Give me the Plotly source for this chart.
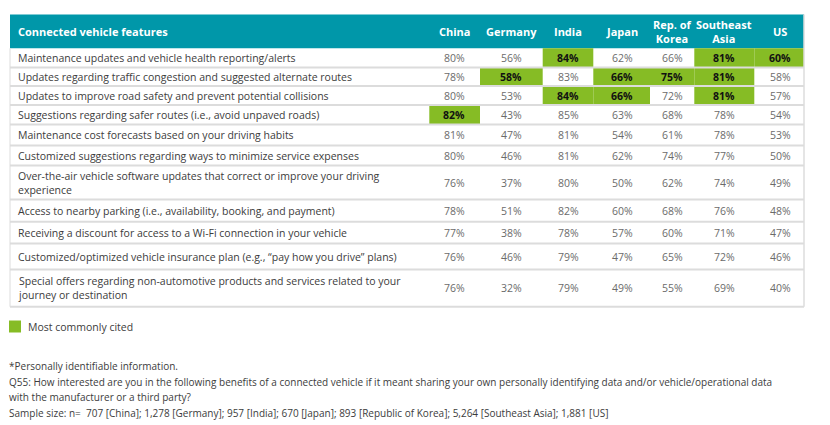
import plotly.graph_objects as go

features = [
    "Maintenance updates and vehicle health reporting/alerts",
    "Updates regarding traffic congestion and suggested alternate routes",
    "Updates to improve road safety and prevent potential collisions",
    "Suggestions regarding safer routes (i.e., avoid unpaved roads)",
    "Maintenance cost forecasts based on your driving habits",
    "Customized suggestions regarding ways to minimize service expenses",
    "Over-the-air vehicle software updates that correct or improve your driving<br>experience",
    "Access to nearby parking (i.e., availability, booking, and payment)",
    "Receiving a discount for access to a Wi-Fi connection in your vehicle",
    "Customized/optimized vehicle insurance plan (e.g., \u201cpay how you drive\u201d plans)",
    "Special offers regarding non-automotive products and services related to your<br>journey or destination",
]
countries = ["China", "Germany", "India", "Japan", "Rep. of<br>Korea", "Southeast<br>Asia", "US"]

china = [80, 78, 80, 82, 81, 80, 76, 78, 77, 76, 76]
germany = [56, 58, 53, 43, 47, 46, 37, 51, 38, 46, 32]
india = [84, 83, 84, 85, 81, 81, 80, 82, 78, 79, 79]
japan = [62, 66, 66, 63, 54, 62, 50, 60, 57, 47, 49]
korea = [66, 75, 72, 68, 61, 74, 62, 68, 60, 65, 55]
se_asia = [81, 81, 81, 78, 78, 77, 74, 76, 71, 72, 69]
us = [60, 58, 57, 54, 53, 50, 49, 48, 47, 46, 40]

# rows (0-based) flagged "Most commonly cited" per country
hl_china = [3]
hl_germany = [1]
hl_india = [0, 2]
hl_japan = [1, 2]
hl_korea = [1]
hl_se_asia = [0, 1, 2]
hl_us = [0]

header_title = "Connected vehicle features"
legend_label = "Most commonly cited"
footnotes = [
    "*Personally identifiable information.",
    "Q55: How interested are you in the following benefits of a connected vehicle if it meant sharing your own personally identifying data and/or vehicle/operational data",
    "with the manufacturer or a third party?",
    "Sample size: n=  707 [China]; 1,278 [Germany]; 957 [India]; 670 [Japan]; 893 [Republic of Korea]; 5,264 [Southeast Asia]; 1,881 [US]",
]

values = [china, germany, india, japan, korea, se_asia, us]
highlights = [hl_china, hl_germany, hl_india, hl_japan, hl_korea, hl_se_asia, hl_us]

# ---- layout geometry (coordinates are page pixels; page body has an 8px margin) ----
PAGE_OFF = 8
W, H = 830, 425
TEAL = "#0097A9"
GREEN = "#86BC25"
GRID = "#DCDCDC"
FONT = "Open Sans"
tbl_left, tbl_right = 10, 804
head_top, head_bot = 14.5, 48.3
row_edges = [48.3, 67.5, 86, 105, 124.5, 145.5, 165.5, 199.5, 221.7, 243.5, 269.5, 306.7]
col_edges = [429.3, 480, 542.7, 593.3, 650, 694.3, 754.3, 804]
col_centers = [454, 511, 568, 622, 672, 724, 780]

shapes = []
ann = []

# header band
shapes.append(dict(type="rect", xref="x", yref="y", x0=tbl_left, x1=tbl_right, y0=head_top, y1=head_bot,
                   fillcolor=TEAL, line=dict(width=0), layer="below"))
ann.append(dict(x=16, y=(head_top + head_bot) / 2, text="<b>" + header_title + "</b>", xanchor="left",
                yanchor="middle", showarrow=False, font=dict(family=FONT, size=11, color="white")))
for c, name in enumerate(countries):
    ann.append(dict(x=col_centers[c], y=(head_top + head_bot) / 2, text="<b>" + name + "</b>", xanchor="center",
                    yanchor="middle", showarrow=False, font=dict(family=FONT, size=11, color="white")))

# highlight cells
for c, rows in enumerate(highlights):
    for r in rows:
        shapes.append(dict(type="rect", xref="x", yref="y", x0=col_edges[c], x1=col_edges[c + 1],
                           y0=row_edges[r], y1=row_edges[r + 1], fillcolor=GREEN, line=dict(width=0),
                           layer="below"))

# row separators
for e in row_edges[1:]:
    shapes.append(dict(type="line", xref="x", yref="y", x0=tbl_left, x1=tbl_right, y0=e, y1=e,
                       line=dict(color=GRID, width=2)))
# outer borders
shapes.append(dict(type="line", xref="x", yref="y", x0=tbl_left, x1=tbl_left, y0=head_bot, y1=row_edges[-1],
                   line=dict(color=GRID, width=1)))
shapes.append(dict(type="line", xref="x", yref="y", x0=tbl_right, x1=tbl_right, y0=head_top, y1=row_edges[-1],
                   line=dict(color=GRID, width=1.5)))

# row labels and values
for r, feat in enumerate(features):
    yc = (row_edges[r] + row_edges[r + 1]) / 2
    ann.append(dict(x=16, y=yc, text=feat, xanchor="left", yanchor="middle", align="left", showarrow=False,
                    font=dict(family=FONT, size=10.5, color="#3C3C3C")))
    for c, vals in enumerate(values):
        hl = r in highlights[c]
        txt = f"<b>{vals[r]}%</b>" if hl else f"{vals[r]}%"
        ann.append(dict(x=col_centers[c], y=yc, text=txt, xanchor="center", yanchor="middle", showarrow=False,
                        font=dict(family=FONT, size=10.5, color="#111111" if hl else "#6B6B6B")))

# legend
shapes.append(dict(type="rect", xref="x", yref="y", x0=9, x1=21, y0=320.5, y1=332.5, fillcolor=GREEN,
                   line=dict(width=0)))
ann.append(dict(x=26, y=326.5, text=legend_label, xanchor="left", yanchor="middle", showarrow=False,
                font=dict(family=FONT, size=10.5, color="#3C3C3C")))

# footnotes (anchored at the left page edge the figure can reach)
for i, t in enumerate(footnotes):
    ann.append(dict(x=PAGE_OFF + 0.01, y=366 + i * 15.7, text=t, xanchor="left", yanchor="middle",
                    showarrow=False, borderpad=0, font=dict(family=FONT, size=10, color="#3C3C3C")))

fig = go.Figure()
fig.update_layout(
    width=W - PAGE_OFF, height=H - PAGE_OFF, margin=dict(l=0, r=0, t=0, b=0),
    paper_bgcolor="white", plot_bgcolor="white",
    xaxis=dict(range=[PAGE_OFF, W], visible=False, fixedrange=True),
    yaxis=dict(range=[H, PAGE_OFF], visible=False, fixedrange=True),
    shapes=shapes, annotations=ann, showlegend=False,
)
fig.write_html("out.html")
